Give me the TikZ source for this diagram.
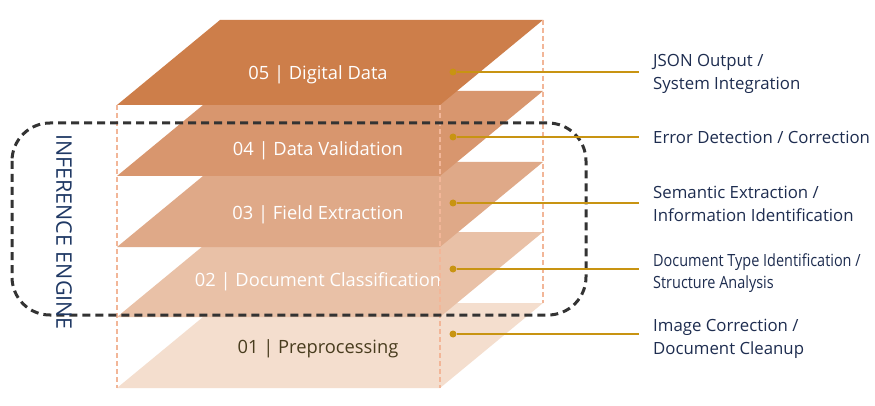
\documentclass[tikz,border=0pt]{standalone}
\usepackage{fontspec}
\setmainfont{Open Sans}
\newfontfamily\narrowfont[FakeStretch=0.86]{Open Sans}
\usepackage{xcolor}
\usepackage{tikz}
\usetikzlibrary{positioning}

\definecolor{layerfive}{RGB}{205,126,74}
\definecolor{layerfour}{RGB}{216,150,110}
\definecolor{layerthree}{RGB}{223,169,136}
\definecolor{layertwo}{RGB}{233,193,167}
\definecolor{layerone}{RGB}{244,222,206}
\definecolor{guideline}{RGB}{242,182,152}
\definecolor{leadgold}{RGB}{200,148,18}
\definecolor{navytext}{RGB}{30,45,80}
\definecolor{enginetext}{RGB}{31,56,100}
\definecolor{darktext}{RGB}{72,60,30}

\begin{document}
\begin{tikzpicture}[
    x=1pt, y=-1pt,
    %% ── Styles ────────────────────────────────────────────────
    layerlabel/.style={
        inner sep=0pt,
        text=white,
        font=\fontsize{18.3}{20}\selectfont
    },
    note/.style={
        anchor=west, align=left, inner sep=0pt,
        text=navytext,
        font=\fontsize{16.8}{22.5}\selectfont
    },
    dot/.style={circle, fill=leadgold, inner sep=0pt, minimum size=7pt},
    lead/.style={draw=leadgold, line width=1.5pt, shorten >=14pt},
    guide/.style={draw=guideline, line width=1.2pt, dash pattern=on 5pt off 3pt},
    engine/.style={draw=black!80, line width=3pt, dash pattern=on 8pt off 5pt,
        rounded corners=38pt}
]

\path[fill=white, use as bounding box] (0,0) rectangle (875,406);

%% ── Layers (bottom to top) ─────────────────────────────────────
\fill[layerone]   (220,303) -- (543,303) -- (440,388) -- (117,388) -- cycle;
\fill[layertwo]   (220,232) -- (543,232) -- (440,317) -- (117,317) -- cycle;
\fill[layerthree] (220,162) -- (543,162) -- (440,247) -- (117,247) -- cycle;
\fill[layerfour]  (220,91)  -- (543,91)  -- (440,176) -- (117,176) -- cycle;
\fill[layerfive]  (220,20)  -- (543,20)  -- (440,105) -- (117,105) -- cycle;

\node (l1) [layerlabel, text=darktext] at (318,349) {01 | Preprocessing};
\node (l2) [layerlabel] at (318,282) {02 | Document Classification};
\node (l3) [layerlabel] at (318,215) {03 | Field Extraction};
\node (l4) [layerlabel] at (318,151) {04 | Data Validation};
\node (l5) [layerlabel] at (318,75)  {05 | Digital Data};

%% ── Guides ─────────────────────────────────────────────────────
\draw [guide] (117,105) -- (117,388);
\draw [guide] (440,105) -- (440,388);
\draw [guide] (543,20)  -- (543,303);

%% ── Inference engine frame ─────────────────────────────────────
\draw [engine] (12,123) rectangle (586,315);
\node (engine) [rotate=-90, text=enginetext, font=\fontsize{21.5}{24}\selectfont]
    at (64,232) {INFERENCE ENGINE};

%% ── Dots and notes ─────────────────────────────────────────────
\node (d5) [dot] at (453,72)  {};
\node (d4) [dot] at (453,137) {};
\node (d3) [dot] at (453,203) {};
\node (d2) [dot] at (453,269) {};
\node (d1) [dot] at (453,334) {};

\node (n5) [note] at (653,74)  {JSON Output /\\System Integration};
\node (n4) [note] at (653,137) {Error Detection / Correction};
\node (n3) [note] at (653,204) {Semantic Extraction /\\Information Identification};
\node (n2) [note, font=\narrowfont\fontsize{16.8}{22.5}\selectfont] at (653,273)
    {Document Type Identification /\\Structure Analysis};
\node (n1) [note] at (653,339) {Image Correction /\\Document Cleanup};

\draw [lead] (d5) -- (n5.west |- d5);
\draw [lead] (d4) -- (n4.west |- d4);
\draw [lead] (d3) -- (n3.west |- d3);
\draw [lead] (d2) -- (n2.west |- d2);
\draw [lead] (d1) -- (n1.west |- d1);

\end{tikzpicture}
\end{document}
